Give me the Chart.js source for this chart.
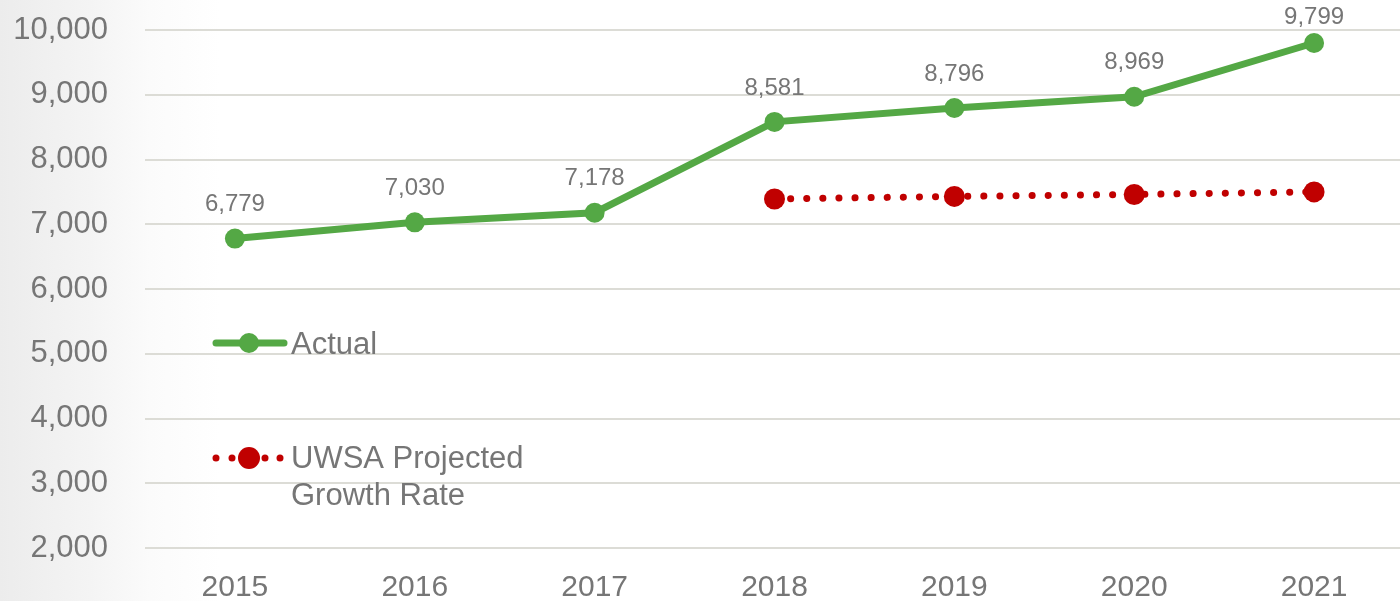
<!DOCTYPE html>
<html>
<head>
<meta charset="utf-8">
<script src="https://cdn.jsdelivr.net/npm/chart.js@4.4.1/dist/chart.umd.min.js"></script>
<style>
    html, body { margin: 0; padding: 0; overflow: hidden; }
    body {
        width: 1400px; height: 601px;
        background: linear-gradient(to right, #ececec 0px, #f4f4f4 90px, #fbfbfb 150px, #ffffff 220px);
    }
    #growthChart { display: block; }
</style>
</head>
<body>
<canvas id="growthChart" width="1404" height="601"></canvas>
<script>
// Chart data
const years = ['2015', '2016', '2017', '2018', '2019', '2020', '2021'];
const actual = [6779, 7030, 7178, 8581, 8796, 8969, 9799];
const projected = [null, null, null, 7390, 7430, 7460, 7500];
const yTicks = [2000, 3000, 4000, 5000, 6000, 7000, 8000, 9000, 10000];

const GREEN = '#54a845';
const RED = '#c00000';
const TEXT = '#767676';
const FONT = 'Arial, "Liberation Sans", sans-serif';

const fmt = v => v.toLocaleString('en-US');

// value labels above the Actual points
const valueLabels = {
    id: 'valueLabels',
    afterDatasetsDraw(chart) {
        const { ctx } = chart;
        const meta = chart.getDatasetMeta(0);
        ctx.save();
        ctx.font = '24px ' + FONT;
        ctx.fillStyle = TEXT;
        ctx.textAlign = 'center';
        ctx.textBaseline = 'middle';
        meta.data.forEach((pt, i) => {
            ctx.fillText(fmt(actual[i]), pt.x, Math.max(pt.y - 34, 17));
        });
        ctx.restore();
    }
};

// legend drawn inside the plot, left side
const insideLegend = {
    id: 'insideLegend',
    afterDraw(chart) {
        const { ctx, chartArea } = chart;
        const x0 = chartArea.left + 68;
        const mx = x0 + 36;
        const tx = x0 + 78;
        ctx.save();

        // Actual
        let y = 343;
        ctx.strokeStyle = GREEN;
        ctx.lineWidth = 7;
        ctx.lineCap = 'round';
        ctx.beginPath();
        ctx.moveTo(x0 + 3, y);
        ctx.lineTo(x0 + 71, y);
        ctx.stroke();
        ctx.fillStyle = GREEN;
        ctx.beginPath();
        ctx.arc(mx, y, 10, 0, Math.PI * 2);
        ctx.fill();

        ctx.font = '31px ' + FONT;
        ctx.fillStyle = TEXT;
        ctx.textBaseline = 'alphabetic';
        ctx.fillText('Actual', tx, y + 11);

        // Projected
        y = 458;
        ctx.fillStyle = RED;
        [x0 + 3, x0 + 19, x0 + 52, x0 + 67].forEach(dx => {
            ctx.beginPath();
            ctx.arc(dx, y, 3.5, 0, Math.PI * 2);
            ctx.fill();
        });
        ctx.beginPath();
        ctx.arc(mx, y, 11, 0, Math.PI * 2);
        ctx.fill();

        ctx.fillStyle = TEXT;
        ctx.fillText('UWSA Projected', tx, y + 10);
        ctx.fillText('Growth Rate', tx, y + 47);
        ctx.restore();
    }
};

const ctx = document.getElementById('growthChart').getContext('2d');
new Chart(ctx, {
    type: 'line',
    data: {
        labels: years,
        datasets: [{
            label: 'Actual',
            data: actual,
            borderColor: GREEN,
            backgroundColor: GREEN,
            borderWidth: 7,
            pointRadius: 10,
            pointBorderWidth: 0,
            pointBackgroundColor: GREEN,
            tension: 0
        }, {
            label: 'UWSA Projected Growth Rate',
            data: projected,
            borderColor: RED,
            backgroundColor: RED,
            borderWidth: 7,
            borderCapStyle: 'round',
            borderDash: [0.1, 16],
            pointRadius: 10.5,
            pointBorderWidth: 0,
            pointBackgroundColor: RED,
            tension: 0
        }]
    },
    options: {
        responsive: false,
        animation: false,
        layout: { autoPadding: false, padding: { top: 30, right: 0, bottom: 0, left: 0 } },
        plugins: {
            legend: { display: false },
            tooltip: { enabled: false }
        },
        scales: {
            x: {
                offset: true,
                grid: { display: false, drawTicks: false },
                border: { display: false },
                ticks: {
                    color: TEXT,
                    font: { family: FONT, size: 30 },
                    padding: 22,
                    maxRotation: 0
                },
                afterFit: s => { s.height = 53; }
            },
            y: {
                min: 2000,
                max: 10000,
                afterBuildTicks: s => { s.ticks = yTicks.map(v => ({ value: v })); },
                grid: { color: '#dcdcd6', lineWidth: 2, drawTicks: false },
                border: { display: false },
                ticks: {
                    color: TEXT,
                    font: { family: FONT, size: 31 },
                    padding: 37,
                    callback: v => fmt(v)
                },
                afterFit: s => {
                    s.width = 145;
                    s.paddingTop = 0;
                    s.paddingBottom = 0;
                }
            }
        }
    },
    plugins: [valueLabels, insideLegend]
});
</script>
</body>
</html>
